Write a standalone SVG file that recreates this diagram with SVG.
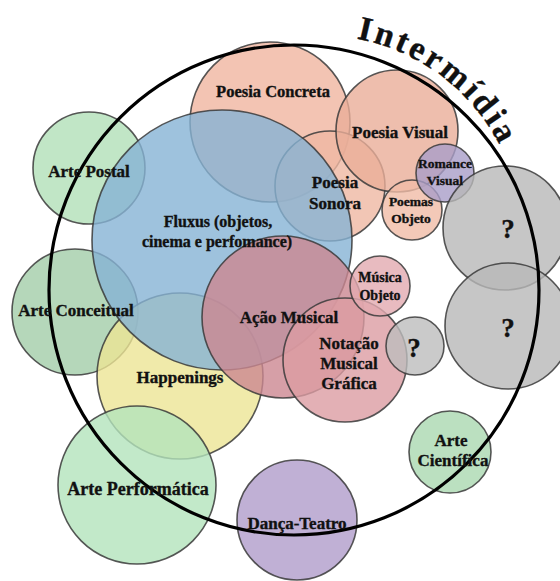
<svg xmlns="http://www.w3.org/2000/svg" width="560" height="581" viewBox="0 0 560 581">
<defs>
<style>
.c{stroke:#3a3a3a;stroke-width:1.6;stroke-opacity:0.85;fill-opacity:0.8}
.t{font-family:"Liberation Serif","Times New Roman",serif;font-weight:bold;font-size:17px;fill:#111;stroke:#111;stroke-width:0.35;text-anchor:middle}
.s{font-size:13.5px}
.q{font-size:27px}
</style>
<path id="arc" d="M 353.6 38.1 A 205 205 0 0 1 519.9 204.4"/>
</defs>
<rect width="560" height="581" fill="#fff"/>
<g id="n-poesia-concreta"><circle class="c" cx="270" cy="122" r="80" fill="#F0B5A0"/><text class="t" x="273" y="97" style="font-size:16.5px">Poesia Concreta</text></g>
<g id="n-poesia-sonora"><circle class="c" cx="330" cy="186" r="55" fill="#EFB8A3"/></g>
<g id="n-poesia-visual"><circle class="c" cx="397" cy="131" r="61" fill="#EAAE98"/></g>
<g id="n-poemas-objeto"><circle class="c" cx="412" cy="210" r="30" fill="#F0BBA6"/></g>
<g id="n-romance-visual"><circle class="c" cx="445" cy="173" r="29" fill="#A99DC8"/></g>
<g id="n-q1"><circle class="c" cx="505" cy="228" r="62" fill="#B8B8B8"/></g>
<g id="n-q2"><circle class="c" cx="508" cy="326" r="63" fill="#B8B8B8"/></g>
<g id="n-arte-postal"><circle class="c" cx="89" cy="168" r="56" fill="#B2E0B8"/></g>
<g id="n-arte-conceitual"><circle class="c" cx="75" cy="312" r="63" fill="#A3CDA9"/></g>
<g id="n-happenings"><circle class="c" cx="180" cy="376" r="83" fill="#ECE595"/></g>
<g id="n-fluxus"><circle class="c" cx="222" cy="240" r="130" fill="#86B3D5"/></g>
<g id="n-arte-performatica"><circle class="c" cx="137" cy="485" r="79" fill="#B3E4BC"/></g>
<g id="n-danca-teatro"><circle class="c" cx="297" cy="520" r="60" fill="#B09CCB"/></g>
<g id="n-acao-musical"><circle class="c" cx="283" cy="317" r="81" fill="#CC8791"/></g>
<g id="n-notacao"><circle class="c" cx="345" cy="360" r="62" fill="#DC9CA2"/></g>
<g id="n-musica-objeto"><circle class="c" cx="380" cy="286" r="30" fill="#E2AAB0"/></g>
<g id="n-q3"><circle class="c" cx="415" cy="346" r="29" fill="#BDBDBD"/></g>
<g id="n-arte-cientifica"><circle class="c" cx="450" cy="452" r="41" fill="#AAD8B0"/></g>
<g id="connectors">
<circle cx="294" cy="290" r="245" fill="none" stroke="#000" stroke-width="3.2"/>
</g>
<g id="labels">
<text class="t" x="400" y="138">Poesia Visual</text>
<text class="t" x="89" y="177">Arte Postal</text>
<text class="t" x="335" y="188">Poesia</text>
<text class="t" x="335" y="209">Sonora</text>
<text class="t s" x="445" y="168">Romance</text>
<text class="t s" x="445" y="185">Visual</text>
<text class="t s" x="411" y="206">Poemas</text>
<text class="t s" x="411" y="223">Objeto</text>
<text class="t q" x="508" y="238">?</text>
<text class="t" x="218" y="227" style="font-size:16px">Fluxus (objetos,</text>
<text class="t" x="217" y="247" style="font-size:16px">cinema e perfomance)</text>
<text class="t s" x="380" y="282" style="font-size:14px">Música</text>
<text class="t s" x="380" y="300" style="font-size:14px">Objeto</text>
<text class="t" x="76" y="316">Arte Conceitual</text>
<text class="t" x="289" y="323">Ação Musical</text>
<text class="t q" x="508" y="337">?</text>
<text class="t q" x="414" y="357">?</text>
<text class="t" x="349" y="349">Notação</text>
<text class="t" x="349" y="369">Musical</text>
<text class="t" x="349" y="389">Gráfica</text>
<text class="t" x="180" y="383">Happenings</text>
<text class="t" x="451" y="446">Arte</text>
<text class="t" x="453" y="466">Científica</text>
<text class="t" x="138" y="495" style="font-size:18px">Arte Performática</text>
<text class="t" x="297" y="529">Dança-Teatro</text>
<text class="t" style="font-size:34px;text-anchor:start;letter-spacing:3px"><textPath href="#arc" startOffset="3">Intermídia</textPath></text>
</g>
</svg>
